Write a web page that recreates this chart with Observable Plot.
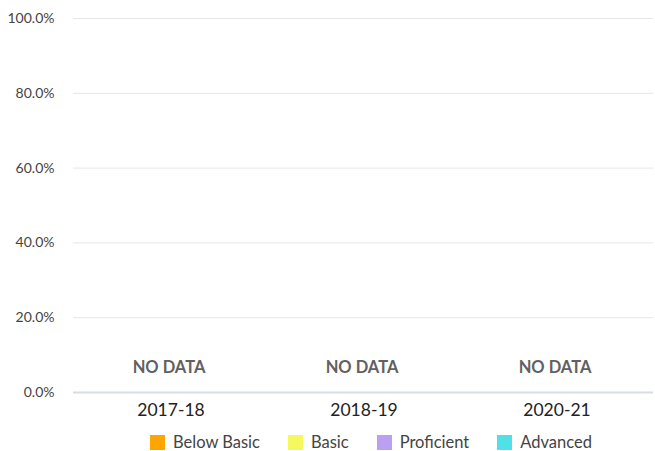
<!DOCTYPE html>
<html>
<head>
<meta charset="utf-8">
<script src="https://cdn.jsdelivr.net/npm/d3@7"></script>
<script src="https://cdn.jsdelivr.net/npm/@observablehq/plot@0.6"></script>
<style>
  body { margin: 0; background: #fff; font-family: Lato, "Noto Sans", sans-serif; }
  #legend { display: flex; gap: 0; margin-left: 150px; height: 20px; align-items: center; font-size: 16.5px; color: #444; }
  .item { display: flex; align-items: center; margin-right: 28px; }
  .sw { width: 15px; height: 15px; margin-right: 8px; }
</style>
</head>
<body>
<div id="chart"></div>
<div id="legend"></div>
<script>
const years = ["2017-18", "2018-19", "2020-21"];
const levels = ["Below Basic", "Basic", "Proficient", "Advanced"];
const levelColors = ["#ffa500", "#f7f75e", "#bb9ff0", "#4fe0e8"];
const belowBasic = [null, null, null];
const basic = [null, null, null];
const proficient = [null, null, null];
const advanced = [null, null, null];
const yTicks = [0, 20, 40, 60, 80, 100];
const noDataLabel = "NO DATA";

const series = [belowBasic, basic, proficient, advanced];
const rows = [];
years.forEach((yr, i) => levels.forEach((lv, j) => {
  if (series[j][i] != null) rows.push({year: yr, level: lv, value: series[j][i]});
}));
const missing = years.filter((yr, i) => series.every(s => s[i] == null)).map(yr => ({year: yr}));

const chart = Plot.plot({
  width: 655,
  height: 432,
  marginTop: 18,
  marginBottom: 40,
  marginLeft: 73,
  marginRight: 2,
  style: {fontFamily: "Lato, 'Noto Sans', sans-serif", background: "#fff"},
  x: {domain: years, padding: 0, label: null, tickSize: 0, tickPadding: 11},
  y: {domain: [0, 100], ticks: yTicks, label: null, tickSize: 0, tickPadding: 19, tickFormat: d => d.toFixed(1) + "%"},
  color: {domain: levels, range: levelColors},
  marks: [
    Plot.gridY(yTicks.filter(t => t > 0), {stroke: "#e6e6e6", strokeOpacity: 1, strokeWidth: 1}),
    Plot.barY(rows, {x: "year", y: "value", fill: "level", order: levels}),
    Plot.ruleY([0], {stroke: "#d8dce8", strokeWidth: 2}),
    Plot.text(missing, {x: "year", frameAnchor: "bottom", dy: -20, dx: -2, text: () => noDataLabel, fill: "#616161", fontWeight: "bold", fontSize: 16.5, letterSpacing: -0.5}),
    Plot.axisX({tickSize: 0, tickPadding: 11, fontSize: 17.5, color: "#222", label: null}),
    Plot.axisY({ticks: yTicks, tickSize: 0, tickPadding: 19, tickFormat: d => d.toFixed(1) + "%", fontSize: 14, color: "#444", label: null})
  ]
});
document.getElementById("chart").appendChild(chart);

const legend = document.getElementById("legend");
levels.forEach((lv, i) => {
  const it = document.createElement("div");
  it.className = "item";
  const sw = document.createElement("div");
  sw.className = "sw";
  sw.style.background = levelColors[i];
  const t = document.createElement("span");
  t.textContent = lv;
  it.appendChild(sw); it.appendChild(t);
  legend.appendChild(it);
});
</script>
</body>
</html>
